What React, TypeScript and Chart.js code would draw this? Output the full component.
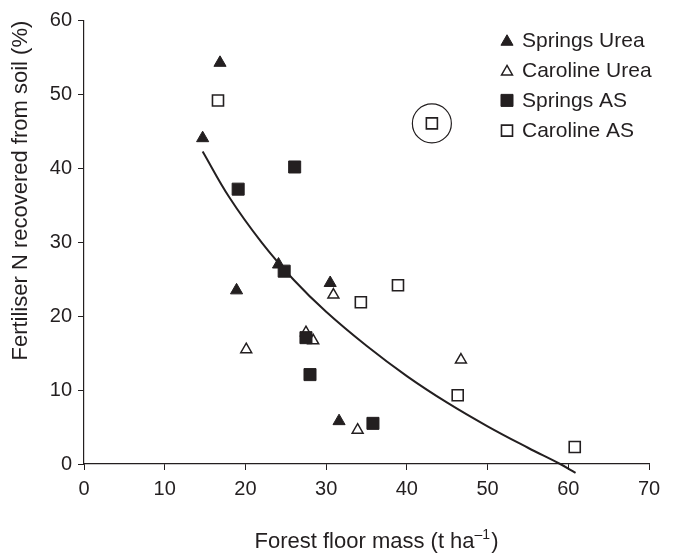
import React, { useEffect, useRef } from 'react';
import { Chart, registerables } from 'chart.js';
import { drawPoint } from 'chart.js/helpers';

Chart.register(...registerables);

// ---- data ----
const springsUreaX = [16.85, 14.7, 24.1, 30.5, 18.9, 31.6];
const springsUreaY = [54.3, 44.1, 27.0, 24.5, 23.5, 5.8];

const carolineUreaX = [30.9, 27.5, 28.4, 20.1, 33.9, 46.7];
const carolineUreaY = [22.9, 17.8, 16.7, 15.5, 4.6, 14.1];

const springsASX = [26.1, 19.1, 24.8, 27.5, 28.0, 35.8];
const springsASY = [40.2, 37.2, 26.1, 17.1, 12.1, 5.5];

const carolineASX = [16.6, 38.9, 34.3, 46.3, 60.8, 43.1];
const carolineASY = [49.2, 24.2, 21.9, 9.3, 2.3, 46.1];

const circledX = [43.1];
const circledY = [46.1];

// fitted curve, read along its length
const fitX = [14.7, 18.0, 22.0, 26.0, 30.0, 35.0, 40.0, 45.0, 50.0, 55.0, 59.0, 60.9];
const fitY = [42.3, 36.1, 30.0, 24.9, 20.6, 16.0, 11.9, 8.3, 5.1, 2.2, 0.0, -1.2];

const xTicks = [0, 10, 20, 30, 40, 50, 60, 70];
const yTicks = [0, 10, 20, 30, 40, 50, 60];

const seriesLabels = ['Springs Urea', 'Caroline Urea', 'Springs AS', 'Caroline AS'];
const xTitleMain = 'Forest floor mass (t ha';
const xTitleSup = '\u20131';
const xTitleEnd = ')';
const yTitle = 'Fertiliser N recovered from soil (%)';

// ---- styles ----
const INK = '#231f20';
const FONT = '"Liberation Sans", Arial, Helvetica, sans-serif';

const zip = (xs: number[], ys: number[]) => xs.map((x, i) => ({ x, y: ys[i] }));

const markerStyles = [
  { pointStyle: 'triangle', radius: 7, bg: INK, border: INK, bw: 1 },
  { pointStyle: 'triangle', radius: 6.3, bg: '#ffffff', border: INK, bw: 1.5 },
  { pointStyle: 'rect', radius: 8.5, bg: INK, border: INK, bw: 1 },
  { pointStyle: 'rect', radius: 7.8, bg: '#ffffff', border: INK, bw: 1.6 },
];

const overlayPlugin = {
  id: 'overlay',
  afterDraw(chart: any) {
    const ctx = chart.ctx as CanvasRenderingContext2D;
    const area = chart.chartArea;
    ctx.save();
    // legend
    const legendX = 507;
    const legendTop = 40;
    const gap = 30.2;
    seriesLabels.forEach((label, i) => {
      const s = markerStyles[i];
      const y = legendTop + i * gap;
      ctx.fillStyle = s.bg;
      ctx.strokeStyle = s.border;
      ctx.lineWidth = s.bw;
      const dy = s.pointStyle === 'triangle' ? s.radius / 4 : 0;
      drawPoint(ctx, { pointStyle: s.pointStyle as any, radius: s.radius, borderWidth: s.bw, rotation: 0 }, legendX, y + dy);
      ctx.fillStyle = INK;
      ctx.font = `21px ${FONT}`;
      ctx.textAlign = 'left';
      ctx.textBaseline = 'middle';
      ctx.fillText(label, legendX + 15, y + 1);
    });
    // x title with superscript
    const mainFont = `22px ${FONT}`;
    const supFont = `14px ${FONT}`;
    ctx.font = mainFont;
    const w1 = ctx.measureText(xTitleMain).width;
    const w3 = ctx.measureText(xTitleEnd).width;
    ctx.font = supFont;
    const w2 = ctx.measureText(xTitleSup).width;
    const total = w1 + w2 + w3 + 1;
    const cx = (area.left + area.right) / 2 + 10;
    const baseY = 547.5;
    let x = cx - total / 2;
    ctx.fillStyle = INK;
    ctx.textAlign = 'left';
    ctx.textBaseline = 'alphabetic';
    ctx.font = mainFont;
    ctx.fillText(xTitleMain, x, baseY);
    x += w1;
    ctx.font = supFont;
    ctx.fillText(xTitleSup, x, baseY - 9);
    x += w2 + 1;
    ctx.font = mainFont;
    ctx.fillText(xTitleEnd, x, baseY);
    ctx.restore();
  },
};

export default function App() {
  const ref = useRef<HTMLCanvasElement | null>(null);

  useEffect(() => {
    if (!ref.current) return;
    const mk = (i: number) => ({
      pointStyle: markerStyles[i].pointStyle as any,
      pointRadius: markerStyles[i].radius,
      pointBackgroundColor: markerStyles[i].bg,
      pointBorderColor: markerStyles[i].border,
      pointBorderWidth: markerStyles[i].bw,
      showLine: false,
    });
    const chart = new Chart(ref.current, {
      type: 'scatter',
      data: {
        datasets: [
          { label: seriesLabels[2], data: zip(springsASX, springsASY), ...mk(2), order: 1 },
          { label: seriesLabels[3], data: zip(carolineASX, carolineASY), ...mk(3), order: 2 },
          { label: seriesLabels[0], data: zip(springsUreaX, springsUreaY), ...mk(0), order: 3 },
          { label: seriesLabels[1], data: zip(carolineUreaX, carolineUreaY), ...mk(1), order: 4 },
          {
            label: 'circled',
            data: zip(circledX, circledY),
            pointStyle: 'circle',
            pointRadius: 19.5,
            pointBackgroundColor: 'rgba(0,0,0,0)',
            pointBorderColor: INK,
            pointBorderWidth: 1.2,
            showLine: false,
            order: 5,
          },
          {
            label: 'fit',
            type: 'line',
            data: zip(fitX, fitY),
            borderColor: INK,
            borderWidth: 2,
            pointRadius: 0,
            tension: 0.4,
            cubicInterpolationMode: 'default',
            fill: false,
            clip: false as any,
            order: 6,
          } as any,
        ],
      },
      options: {
        animation: false,
        responsive: true,
        maintainAspectRatio: false,
        layout: { padding: { top: 16, right: 25, left: 0, bottom: 0 } },
        plugins: { legend: { display: false }, tooltip: { enabled: false }, title: { display: false } },
        scales: {
          x: {
            type: 'linear',
            min: 0,
            max: 70,
            afterBuildTicks: (s: any) => { s.ticks = xTicks.map((v) => ({ value: v })); },
            afterFit: (s: any) => { s.height = 89; },
            grid: { drawOnChartArea: false, drawTicks: true, tickLength: 6, color: INK, lineWidth: 1 },
            border: { color: INK, width: 1.2 },
            ticks: { color: INK, font: { family: FONT, size: 20 }, padding: 7, maxRotation: 0 },
          },
          y: {
            type: 'linear',
            min: 0,
            max: 60,
            afterBuildTicks: (s: any) => { s.ticks = yTicks.map((v) => ({ value: v })); },
            afterFit: (s: any) => { s.width = 84; },
            grid: { drawOnChartArea: false, drawTicks: true, tickLength: 6, color: INK, lineWidth: 1 },
            border: { color: INK, width: 1.2 },
            ticks: { color: INK, font: { family: FONT, size: 20 }, padding: 6 },
            title: {
              display: true,
              text: yTitle,
              color: INK,
              align: 'end',
              font: { family: FONT, size: 22 },
              padding: { top: 8, bottom: 0 },
            },
          },
        },
      },
      plugins: [overlayPlugin],
    });
    return () => chart.destroy();
  }, []);

  return (
    <div style={{ position: 'fixed', left: 0, top: 0, width: 674, height: 553, background: '#fff' }}>
      <canvas ref={ref} />
    </div>
  );
}
